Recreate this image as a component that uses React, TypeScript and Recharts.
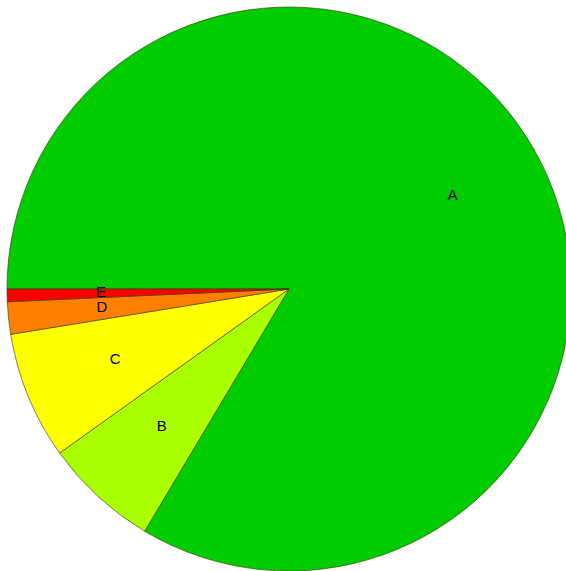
import { Cell, Pie, PieChart } from "recharts";

const NAMES = ["A", "B", "C", "D", "E"];
const VALUES = [83.56, 6.57, 7.31, 1.85, 0.72];
const COLORS = ["#00CC00", "#AAFF00", "#FFFF00", "#FF8000", "#FF0000"];

const data = NAMES.map((name, i) => ({ name, value: VALUES[i] }));

const RAD = Math.PI / 180;

function renderLabel(props: any) {
  const { cx, cy, midAngle, outerRadius, name } = props;
  const r = outerRadius * 0.667;
  const x = cx + r * Math.cos(-midAngle * RAD);
  const y = cy + r * Math.sin(-midAngle * RAD) - 2;
  return (
    <text
      x={x}
      y={y}
      fill="#000"
      fontFamily="'Liberation Sans', Arial, sans-serif"
      fontSize={15}
      textAnchor="middle"
      dominantBaseline="central"
    >
      {name}
    </text>
  );
}

export default function App() {
  return (
    <div style={{ position: "fixed", left: 0, top: 0, width: 566, height: 571, background: "#fff" }}>
      <PieChart width={566} height={571} margin={{ top: 0, right: 0, bottom: 0, left: 0 }}>
        <Pie
          data={data}
          dataKey="value"
          nameKey="name"
          cx={289}
          cy={289}
          innerRadius={0}
          outerRadius={282}
          startAngle={180}
          endAngle={-180}
          paddingAngle={0}
          stroke="#333300"
          strokeWidth={0.6}
          label={renderLabel}
          labelLine={false}
          isAnimationActive={false}
        >
          {data.map((_, i) => (
            <Cell key={i} fill={COLORS[i]} />
          ))}
        </Pie>
      </PieChart>
    </div>
  );
}
